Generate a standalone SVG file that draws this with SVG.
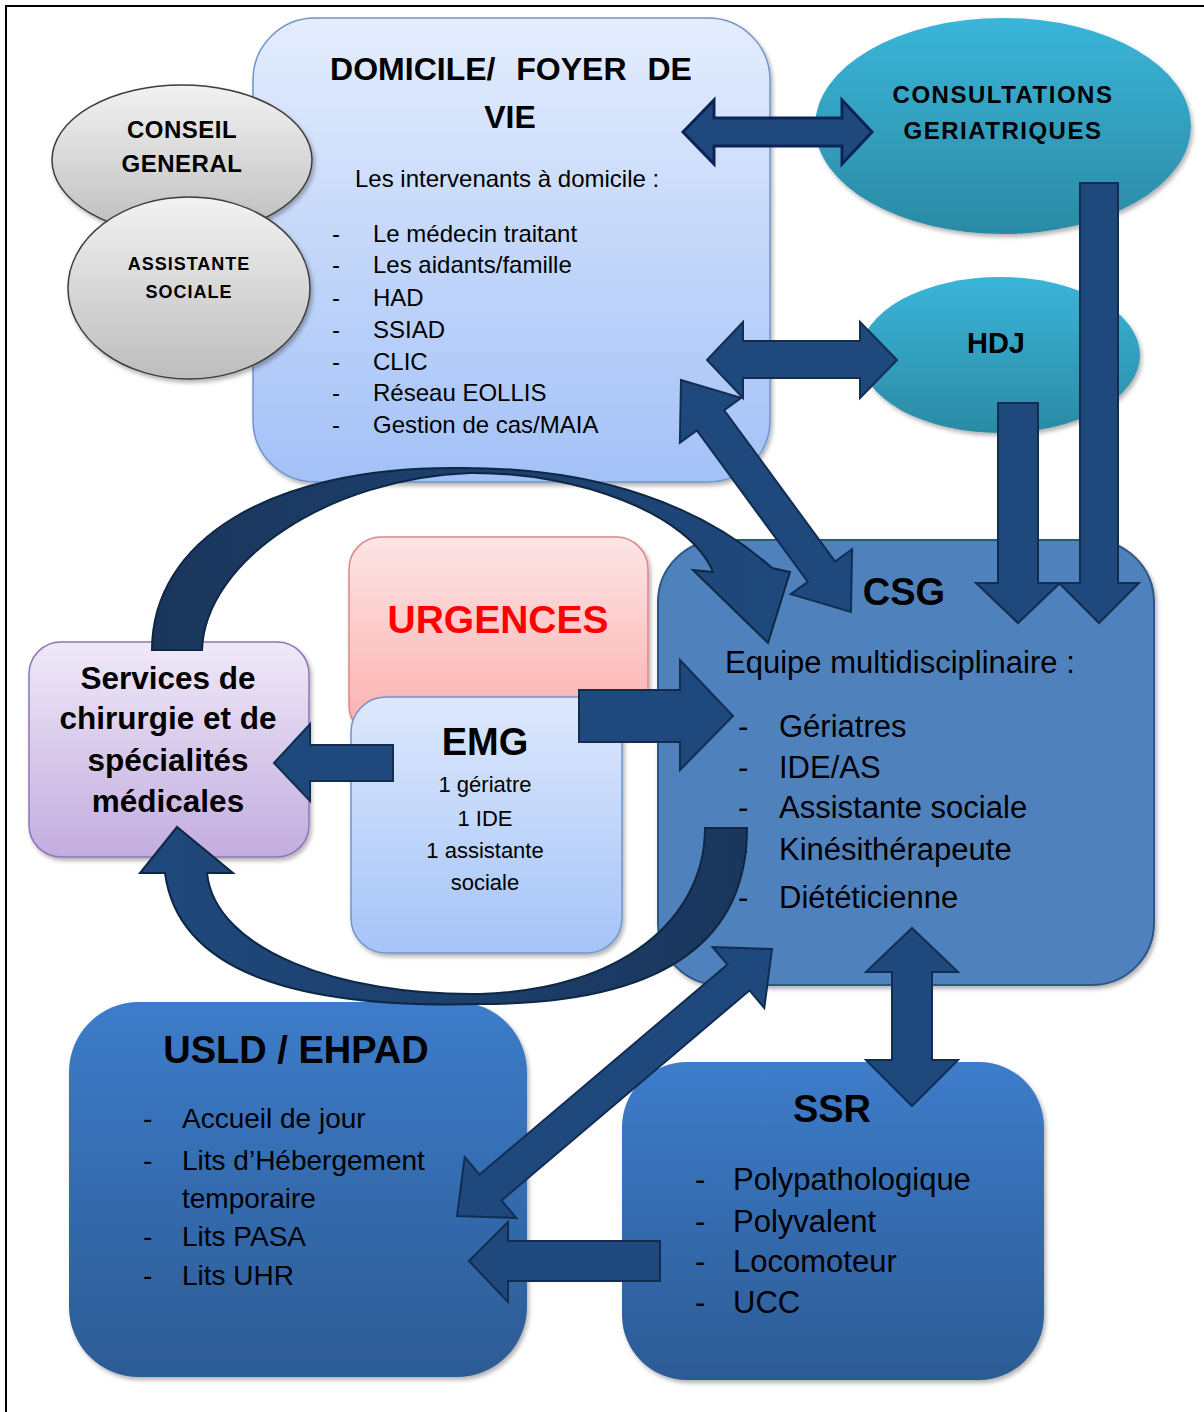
<svg xmlns="http://www.w3.org/2000/svg" width="1204" height="1412" viewBox="0 0 1204 1412">
<defs>
<style>
.t{font-family:'Liberation Sans',Arial,sans-serif;fill:#000}
.b{font-weight:bold}
.m{text-anchor:middle}
.arr{fill:#1f497d;stroke:#112d52;stroke-width:2;stroke-linejoin:miter}
</style>
<linearGradient id="gDom" x1="0" y1="0" x2="0" y2="1"><stop offset="0" stop-color="#e4edfd"/><stop offset="1" stop-color="#a3c1f7"/></linearGradient>
<linearGradient id="gEmg" x1="0" y1="0" x2="0" y2="1"><stop offset="0" stop-color="#dde8fc"/><stop offset="1" stop-color="#a5c4f8"/></linearGradient>
<linearGradient id="gSrv" x1="0" y1="0" x2="0" y2="1"><stop offset="0" stop-color="#efe9f8"/><stop offset="1" stop-color="#c3acdf"/></linearGradient>
<linearGradient id="gUrg" x1="0" y1="0" x2="0" y2="1"><stop offset="0" stop-color="#fde5e5"/><stop offset="1" stop-color="#fbaeac"/></linearGradient>
<linearGradient id="gDark" x1="0" y1="0" x2="0" y2="1"><stop offset="0" stop-color="#3d7cca"/><stop offset="1" stop-color="#2c5b94"/></linearGradient>
<linearGradient id="gGray" x1="0" y1="0" x2="0" y2="1"><stop offset="0" stop-color="#f2f2f2"/><stop offset="1" stop-color="#bdbdbd"/></linearGradient>
<linearGradient id="gTeal" x1="0" y1="0" x2="0" y2="1"><stop offset="0" stop-color="#3ab5d9"/><stop offset="1" stop-color="#2b8aa4"/></linearGradient>
<linearGradient id="gArcTop" x1="0" y1="0" x2="1" y2="0"><stop offset="0" stop-color="#1a365c"/><stop offset="1" stop-color="#1f497d"/></linearGradient>
<linearGradient id="gArcBot" x1="1" y1="0" x2="0" y2="0"><stop offset="0" stop-color="#1a365c"/><stop offset="1" stop-color="#1f497d"/></linearGradient>
<filter id="sh" x="-10%" y="-10%" width="125%" height="125%"><feDropShadow dx="2" dy="3" stdDeviation="2" flood-color="#000" flood-opacity="0.3"/></filter>
</defs>
<rect width="1204" height="1412" fill="#fff"/>
<path d="M6,1412 V6 H1204" fill="none" stroke="#000" stroke-width="2"/>

<g id="domicile">
<rect x="253" y="18" width="517" height="464" rx="62" fill="url(#gDom)" stroke="#6f94cc" stroke-width="1.5" filter="url(#sh)"/>
<text class="t b m" x="511" y="80" font-size="32" word-spacing="12">DOMICILE/ FOYER DE</text>
<text class="t b m" x="510" y="128" font-size="32">VIE</text>
<text class="t" x="355" y="187" font-size="24">Les intervenants à domicile :</text>
<g class="t" font-size="24">
<text x="332" y="242">-</text><text x="373" y="242">Le médecin traitant</text>
<text x="332" y="273">-</text><text x="373" y="273">Les aidants/famille</text>
<text x="332" y="306">-</text><text x="373" y="306">HAD</text>
<text x="332" y="338">-</text><text x="373" y="338">SSIAD</text>
<text x="332" y="370">-</text><text x="373" y="370">CLIC</text>
<text x="332" y="401">-</text><text x="373" y="401">Réseau EOLLIS</text>
<text x="332" y="433">-</text><text x="373" y="433">Gestion de cas/MAIA</text>
</g>
</g>

<g id="conseil-general">
<ellipse cx="182" cy="160" rx="130" ry="75" fill="url(#gGray)" stroke="#3c3c3c" stroke-width="1.5" filter="url(#sh)"/>
<text class="t b m" x="182" y="138" font-size="24" letter-spacing="0.5">CONSEIL</text>
<text class="t b m" x="182" y="172" font-size="24" letter-spacing="0.5">GENERAL</text>
</g>

<g id="assistante-sociale">
<ellipse cx="189" cy="288" rx="121" ry="91" fill="url(#gGray)" stroke="#3c3c3c" stroke-width="1.5" filter="url(#sh)"/>
<text class="t b m" x="189" y="270" font-size="18" letter-spacing="1">ASSISTANTE</text>
<text class="t b m" x="189" y="298" font-size="18" letter-spacing="1">SOCIALE</text>
</g>

<g id="consultations">
<ellipse cx="1003" cy="126" rx="188" ry="108" fill="url(#gTeal)" filter="url(#sh)"/>
<text class="t b m" x="1003" y="103" font-size="24" letter-spacing="1.5">CONSULTATIONS</text>
<text class="t b m" x="1003" y="139" font-size="24" letter-spacing="1.5">GERIATRIQUES</text>
</g>

<g id="hdj">
<ellipse cx="1000" cy="355" rx="140" ry="78" fill="url(#gTeal)" filter="url(#sh)"/>
<text class="t b m" x="996" y="353" font-size="29">HDJ</text>
</g>

<g id="services">
<rect x="29" y="642" width="280" height="215" rx="32" fill="url(#gSrv)" stroke="#8d75b9" stroke-width="1.5" filter="url(#sh)"/>
<g class="t b m" font-size="31.5">
<text x="168" y="689">Services de</text>
<text x="168" y="729">chirurgie et de</text>
<text x="168" y="771">spécialités</text>
<text x="168" y="812">médicales</text>
</g>
</g>

<g id="urgences">
<rect x="349" y="537" width="299" height="200" rx="32" fill="url(#gUrg)" stroke="#e08585" stroke-width="1.5" filter="url(#sh)"/>
<text class="t b m" x="498" y="633" font-size="39" style="fill:#ff0000">URGENCES</text>
</g>

<g id="emg">
<rect x="351" y="697" width="271" height="256" rx="35" fill="url(#gEmg)" stroke="#6f94cc" stroke-width="1.5" filter="url(#sh)"/>
<text class="t b m" x="485" y="755" font-size="38">EMG</text>
<g class="t m" font-size="22">
<text x="485" y="792">1 gériatre</text>
<text x="485" y="826">1 IDE</text>
<text x="485" y="858">1 assistante</text>
<text x="485" y="890">sociale</text>
</g>
</g>

<g id="csg">
<rect x="658" y="540" width="496" height="445" rx="62" fill="#4f81bd" stroke="#2f5688" stroke-width="2" filter="url(#sh)"/>
<text class="t b m" x="904" y="605" font-size="38">CSG</text>
<text class="t" x="725" y="673" font-size="31">Equipe multidisciplinaire :</text>
<g class="t" font-size="31">
<text x="738" y="737">-</text><text x="779" y="737">Gériatres</text>
<text x="738" y="778">-</text><text x="779" y="778">IDE/AS</text>
<text x="738" y="818">-</text><text x="779" y="818">Assistante sociale</text>
<text x="738" y="860">-</text><text x="779" y="860">Kinésithérapeute</text>
<text x="738" y="908">-</text><text x="779" y="908">Diététicienne</text>
</g>
</g>

<g id="usld-ehpad">
<rect x="69" y="1002" width="458" height="375" rx="70" fill="url(#gDark)" filter="url(#sh)"/>
<text class="t b m" x="296" y="1063" font-size="38">USLD / EHPAD</text>
<g class="t" font-size="28">
<text x="143" y="1128">-</text><text x="182" y="1128">Accueil de jour</text>
<text x="143" y="1170">-</text><text x="182" y="1170">Lits d’Hébergement</text>
<text x="182" y="1208">temporaire</text>
<text x="143" y="1246">-</text><text x="182" y="1246">Lits PASA</text>
<text x="143" y="1285">-</text><text x="182" y="1285">Lits UHR</text>
</g>
</g>

<g id="ssr">
<rect x="622" y="1062" width="422" height="318" rx="65" fill="url(#gDark)" filter="url(#sh)"/>
<text class="t b m" x="832" y="1122" font-size="38">SSR</text>
<g class="t" font-size="31">
<text x="695" y="1190">-</text><text x="733" y="1190">Polypathologique</text>
<text x="695" y="1232">-</text><text x="733" y="1232">Polyvalent</text>
<text x="695" y="1272">-</text><text x="733" y="1272">Locomoteur</text>
<text x="695" y="1313">-</text><text x="733" y="1313">UCC</text>
</g>
</g>

<g id="connectors">
<path d="M152,650 C152,540 270,468 453,468 C600,466 705,508 772,568 L790,572 L768,643 L693,570 L713,572 C690,515 580,472 470,473 C330,478 205,560 202,650 Z" fill="url(#gArcTop)" stroke="#0e2743" stroke-width="2"/>
<path d="M705,828 L747,828 C747,930 680,1004 480,1004 C330,1008 180,985 165,873 L140,873 L177,827 L233,873 L207,873 C215,950 340,996 480,994 C620,990 705,920 705,828 Z" fill="url(#gArcBot)" stroke="#0e2743" stroke-width="2"/>
<polygon class="arr" style="stroke:#0b2457;stroke-width:3" points="683,132 714,100 714,118 842,118 842,100 872,132 842,164 842,146 714,146 714,164"/>
<polygon class="arr" points="707,360 743,322 743,341 860,341 860,322 897,360 860,398 860,378 743,378 743,398"/>
<polygon class="arr" transform="translate(681,380) rotate(53.77)" points="0,0 50,-38 50,-17 237.6,-17 237.6,-38 287.6,0 237.6,38 237.6,17 50,17 50,38"/>
<polygon class="arr" points="1080,183 1118,183 1118,583 1139,583 1099,623 1059,583 1080,583"/>
<polygon class="arr" points="998,403 1038,403 1038,583 1060,583 1018,623 976,583 998,583"/>
<polygon class="arr" points="274,763 310,724 310,745 393,745 393,781 310,781 310,801"/>
<polygon class="arr" points="579,690 680,690 680,660 733,716 680,770 680,742 579,742"/>
<polygon class="arr" points="912,928 958,972 932,972 932,1060 958,1060 912,1106 866,1060 892,1060 892,972 866,972"/>
<polygon class="arr" transform="translate(457,1216) rotate(-40.28)" points="0,0 44,-40 44,-17 368.9,-17 368.9,-40 412.9,0 368.9,40 368.9,17 44,17 44,40"/>
<polygon class="arr" points="469,1261 508,1222 508,1241 660,1241 660,1281 508,1281 508,1302"/>
</g>
</svg>
